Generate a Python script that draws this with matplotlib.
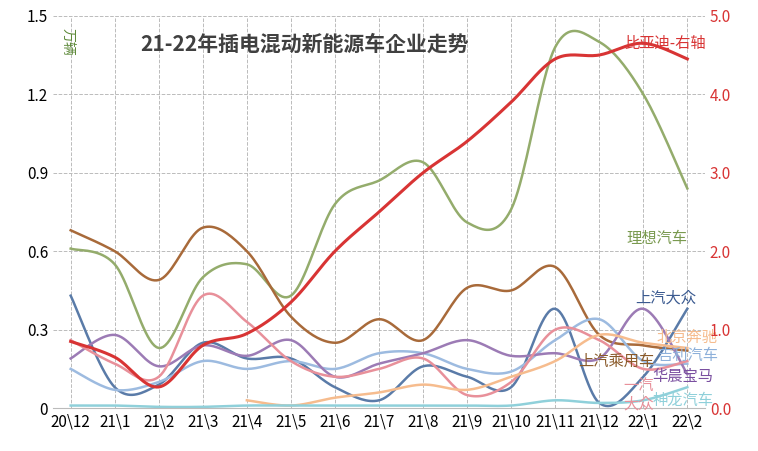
import numpy as np
import matplotlib
matplotlib.use("Agg")
import matplotlib.pyplot as plt

plt.rcParams['font.family'] = ['sans-serif']
plt.rcParams['font.sans-serif'] = ['Noto Sans CJK SC', 'Noto Sans CJK JP', 'Noto Sans CJK TC', 'Noto Sans CJK KR', 'DejaVu Sans']

months = ["20\\12","21\\1","21\\2","21\\3","21\\4","21\\5","21\\6","21\\7","21\\8","21\\9","21\\10","21\\11","21\\12","22\\1","22\\2"]
byd = [0.85,0.65,0.27,0.8,0.95,1.35,2.0,2.5,3.0,3.4,3.9,4.45,4.5,4.65,4.45]
lixiang = [0.61,0.55,0.23,0.5,0.55,0.43,0.78,0.87,0.94,0.71,0.76,1.38,1.40,1.2,0.84]
saic_pv = [0.68,0.60,0.49,0.69,0.60,0.35,0.25,0.34,0.26,0.46,0.45,0.54,0.28,0.24,0.22]
saic_vw = [0.43,0.08,0.09,0.25,0.19,0.19,0.08,0.03,0.16,0.12,0.08,0.38,0.02,0.12,0.38]
geely = [0.15,0.07,0.10,0.18,0.15,0.18,0.15,0.21,0.21,0.15,0.14,0.26,0.34,0.18,0.17]
bmw = [0.19,0.28,0.16,0.24,0.20,0.26,0.12,0.17,0.21,0.26,0.20,0.21,0.19,0.38,0.13]
faw_vw = [0.26,0.17,0.12,0.43,0.33,0.18,0.12,0.15,0.19,0.05,0.10,0.30,0.26,0.15,0.18]
baic = [None,None,None,None,0.03,0.01,0.04,0.06,0.09,0.07,0.12,0.18,0.28,0.25,0.23]
fengshen = [0.01,0.01,0.005,0.005,0.01,0.01,0.01,0.01,0.01,0.01,0.01,0.03,0.02,0.03,0.08]

def smooth(xs, ys, n=20):
    xs = np.asarray(xs, float); ys = np.asarray(ys, float)
    px = [xs[0]] + list(xs) + [xs[-1]]
    py = [ys[0]] + list(ys) + [ys[-1]]
    ox, oy = [], []
    for i in range(1, len(px) - 2):
        t = np.linspace(0, 1, n, endpoint=False)
        for arr, out in ((px, ox), (py, oy)):
            p0, p1, p2, p3 = arr[i-1], arr[i], arr[i+1], arr[i+2]
            out.extend(0.5*((2*p1)+(-p0+p2)*t+(2*p0-5*p1+4*p2-p3)*t**2+(-p0+3*p1-3*p2+p3)*t**3))
    ox.append(xs[-1]); oy.append(ys[-1])
    return np.array(ox), np.array(oy)

fig = plt.figure(figsize=(7.58, 4.51), dpi=100)
ax = fig.add_axes([0.07, 0.095, 0.86, 0.87])
ax2 = ax.twinx()
x = np.arange(len(months))

series = [
    (lixiang, '#94AC6C', ax), (saic_pv, '#A86A3A', ax), (saic_vw, '#5A7BA8', ax),
    (geely, '#9DBBE0', ax), (bmw, '#9C7BB5', ax), (faw_vw, '#E8909A', ax),
    (baic, '#F6BC8E', ax), (fengshen, '#8FD0DA', ax), (byd, '#D83434', ax2),
]
for vals, c, a in series:
    idx = [i for i, v in enumerate(vals) if v is not None]
    sx, sy = smooth(x[idx], [vals[i] for i in idx])
    a.plot(sx, sy, color=c, lw=2.2 if a is ax2 else 1.8)

ax.set_xlim(-0.4, 14.4)
ax.set_ylim(0, 1.5)
ax2.set_ylim(0, 5.0)
ax.set_yticks(np.arange(0, 1.51, 0.3))
ax.set_yticklabels(['0','0.3','0.6','0.9','1.2','1.5'])
ax2.set_yticks(np.arange(0, 5.01, 1.0))
ax2.set_yticklabels([f'{v:.1f}' for v in np.arange(0, 5.01, 1.0)], color='#D83434', fontsize=11)
ax.set_xticks(x)
ax.set_xticklabels(months, fontsize=11)
ax.tick_params(labelsize=11, length=0)
ax2.tick_params(length=0)
ax.grid(color='#BBBBBB', ls='--', lw=0.7)
for a in (ax, ax2):
    for s in a.spines.values():
        s.set_visible(False)
ax.spines['bottom'].set_visible(True); ax.spines['bottom'].set_color('#BBBBBB')

ax.text(5.3, 1.39, '21-22年插电混动新能源车企业走势', fontsize=15, fontweight='bold', color='#404040', ha='center', va='center')
ax.text(-0.1, 1.4, '万辆', fontsize=10, color='#5E8A3A', rotation=-90, va='center', ha='center')
labels = [
    (13.5, 4.65, '比亚迪-右轴', '#D83434', ax2),
    (13.3, 0.65, '理想汽车', '#7A9A50', ax),
    (13.5, 0.42, '上汽大众', '#3A5A90', ax),
    (14.0, 0.27, '北京奔驰', '#F6BC8E', ax),
    (12.4, 0.18, '上汽乘用车', '#8A5A2A', ax),
    (14.0, 0.20, '吉利汽车', '#8DB0DA', ax),
    (13.9, 0.12, '华晨宝马', '#7A4FA0', ax),
    (12.9, 0.05, '一汽\n大众', '#E8909A', ax),
    (13.9, 0.03, '神龙汽车', '#8FD0DA', ax),
]
for lx, ly, t, c, a in labels:
    a.text(lx, ly, t, color=c, fontsize=11, ha='center', va='center', linespacing=1.1)
fig.savefig('out.png', dpi=100)
